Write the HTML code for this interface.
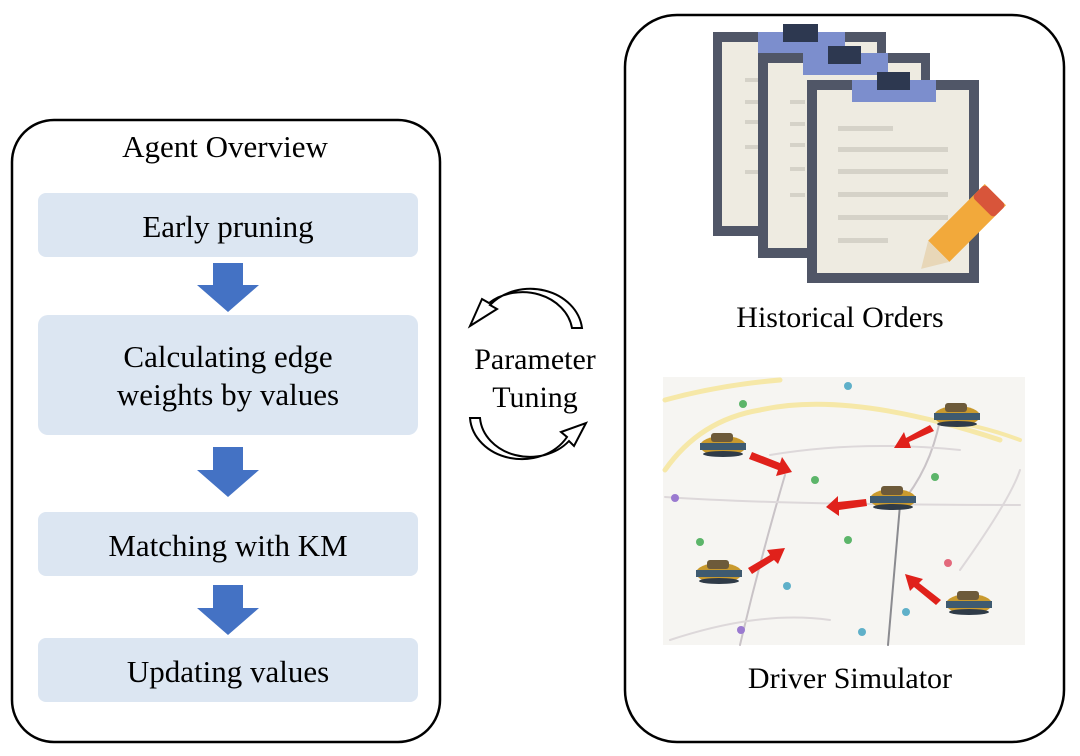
<!DOCTYPE html>
<html><head><meta charset="utf-8"><style>
body{margin:0;background:#fff;}
svg{display:block;font-family:"Liberation Serif",serif;}
</style></head><body>
<svg width="1080" height="756" viewBox="0 0 1080 756">
<rect width="1080" height="756" fill="#fff"/>
<!-- left panel -->
<rect x="12" y="120" width="428" height="622" rx="42" fill="#fff" stroke="#000" stroke-width="2.5"/>
<text x="225" y="157" font-size="31" text-anchor="middle">Agent Overview</text>
<rect x="38" y="193" width="380" height="64" rx="8" fill="#dce6f2"/>
<text x="228" y="237" font-size="31" text-anchor="middle">Early pruning</text>
<rect x="38" y="315" width="380" height="120" rx="10" fill="#dce6f2"/>
<text x="228" y="367" font-size="31" text-anchor="middle">Calculating edge</text>
<text x="228" y="405" font-size="31" text-anchor="middle">weights by values</text>
<rect x="38" y="512" width="380" height="64" rx="8" fill="#dce6f2"/>
<text x="228" y="556" font-size="31" text-anchor="middle">Matching with KM</text>
<rect x="38" y="638" width="380" height="64" rx="8" fill="#dce6f2"/>
<text x="228" y="682" font-size="31" text-anchor="middle">Updating values</text>
<g fill="#4472c4">
<polygon points="213,263 243,263 243,285 259,285 228,312 197,285 213,285"/>
<polygon points="213,447 243,447 243,470 259,470 228,497 197,470 213,470"/>
<polygon points="213,585 243,585 243,608 259,608 228,635 197,608 213,608"/>
</g>
<!-- cycle arrows -->
<g fill="#fff" stroke="#000" stroke-width="2">
<path d="M582,328 A52,44 0 0 0 490,305 L497,309 L470,326 L482,299 L489,303 A50,42 0 0 1 572,328 Z"/>
<path d="M470,418 A52,44 0 0 0 567,437 L561,432 L586,423 L574,446 L569,441 A50,42 0 0 1 480,418 Z"/>
</g>
<text x="535" y="369" font-size="30" text-anchor="middle">Parameter</text>
<text x="535" y="407" font-size="30" text-anchor="middle">Tuning</text>
<!-- right panel -->
<rect x="625" y="15" width="439" height="727" rx="52" fill="#fff" stroke="#000" stroke-width="2.5"/>
<!-- clipboards -->
<g>
<rect x="713" y="32" width="173" height="204" fill="#505667"/>
<rect x="722" y="42" width="155" height="184" fill="#eeebe1"/>
<rect x="758" y="32" width="87" height="21" fill="#7c8ecd"/>
<rect x="783" y="24" width="35" height="18" fill="#2d3850"/>
<g fill="#d5d2c8"><rect x="745" y="78" width="15" height="4"/><rect x="745" y="100" width="15" height="4"/><rect x="745" y="120" width="15" height="4"/><rect x="745" y="145" width="15" height="4"/><rect x="745" y="170" width="15" height="4"/></g>
<rect x="758" y="53" width="172" height="205" fill="#505667"/>
<rect x="768" y="63" width="153" height="185" fill="#eeebe1"/>
<rect x="803" y="53" width="85" height="22" fill="#7c8ecd"/>
<rect x="828" y="46" width="33" height="18" fill="#2d3850"/>
<g fill="#d5d2c8"><rect x="790" y="100" width="15" height="4"/><rect x="790" y="122" width="15" height="4"/><rect x="790" y="143" width="15" height="4"/><rect x="790" y="167" width="15" height="4"/><rect x="790" y="193" width="15" height="4"/></g>
<rect x="807" y="80" width="172" height="203" fill="#505667"/>
<rect x="817" y="90" width="152" height="183" fill="#eeebe1"/>
<rect x="852" y="80" width="84" height="22" fill="#7c8ecd"/>
<rect x="877" y="72" width="33" height="18" fill="#2d3850"/>
<g fill="#d5d2c8"><rect x="838" y="126" width="55" height="5"/><rect x="838" y="147" width="110" height="5"/><rect x="838" y="169" width="110" height="5"/><rect x="838" y="192" width="110" height="5"/><rect x="838" y="215" width="110" height="5"/><rect x="838" y="238" width="50" height="5"/></g>
<g transform="rotate(45 960 230)">
<rect x="945" y="180" width="30" height="80" fill="#f2a93b"/>
<rect x="945" y="180" width="30" height="18" rx="4" fill="#d8553a"/>
<polygon points="945,260 975,260 960,285" fill="#e8d7b8"/>
</g>
</g>
<text x="840" y="327" font-size="30" text-anchor="middle">Historical Orders</text>
<!-- map -->
<rect x="663" y="377" width="362" height="268" fill="#f6f5f2"/>
<g fill="none" stroke-linecap="round">
<path d="M665,470 Q700,420 760,410 Q850,390 1000,440" stroke="#f6e8a8" stroke-width="5"/>
<path d="M665,400 Q720,385 780,380" stroke="#f6e8a8" stroke-width="5"/>
<path d="M940,420 Q980,425 1020,440" stroke="#f6e8a8" stroke-width="4"/>
<path d="M785,475 Q760,560 740,645" stroke="#c9c3c7" stroke-width="2"/>
<path d="M900,505 L888,645" stroke="#8b8b90" stroke-width="2"/>
<path d="M940,420 Q930,470 900,505" stroke="#c9c3c7" stroke-width="2"/>
<path d="M665,497 Q780,505 1020,505" stroke="#ddd8da" stroke-width="2"/>
<path d="M960,570 Q1010,500 1020,470" stroke="#ddd8da" stroke-width="2"/>
<path d="M670,640 Q760,610 830,620" stroke="#ddd8da" stroke-width="2"/>
<path d="M770,455 Q860,440 960,450" stroke="#ddd8da" stroke-width="2"/>
</g>
<g fill="#5cb56a"><circle cx="743" cy="404" r="4"/><circle cx="815" cy="480" r="4"/><circle cx="935" cy="477" r="4"/><circle cx="700" cy="542" r="4"/><circle cx="848" cy="540" r="4"/></g>
<g fill="#5fb0c9"><circle cx="848" cy="386" r="4"/><circle cx="787" cy="586" r="4"/><circle cx="862" cy="632" r="4"/><circle cx="906" cy="612" r="4"/></g>
<g fill="#9a7ad0"><circle cx="675" cy="498" r="4"/><circle cx="741" cy="630" r="4"/></g>
<circle cx="948" cy="563" r="4" fill="#e3697c"/>
<!-- taxis -->
<g id="taxi">
<ellipse cx="723" cy="446" rx="23" ry="10" fill="#c99a2e"/>
<rect x="700" y="443" width="46" height="7" fill="#3e5a70"/>
<rect x="711" y="433" width="22" height="9" rx="3" fill="#6d5a3a"/>
<ellipse cx="723" cy="454" rx="20" ry="3" fill="#2f3b48"/>
</g>
<use href="#taxi" transform="translate(234,-30)"/>
<use href="#taxi" transform="translate(170,53)"/>
<use href="#taxi" transform="translate(-4,127)"/>
<use href="#taxi" transform="translate(246,158)"/>
<g fill="#e0211b">
<polygon points="752,452 780,463 782,457 792,472 776,476 778,470 749,459"/>
<polygon points="930,425 906,438 904,432 894,448 911,448 909,442 934,431"/>
<polygon points="866,499 838,502 838,496 826,507 839,516 839,510 867,506"/>
<polygon points="748,568 770,555 767,550 785,548 778,564 774,560 752,574"/>
<polygon points="941,600 919,583 923,579 905,574 910,591 914,587 936,605"/>
</g>
<text x="850" y="688" font-size="30" text-anchor="middle">Driver Simulator</text>
</svg>
</body></html>
